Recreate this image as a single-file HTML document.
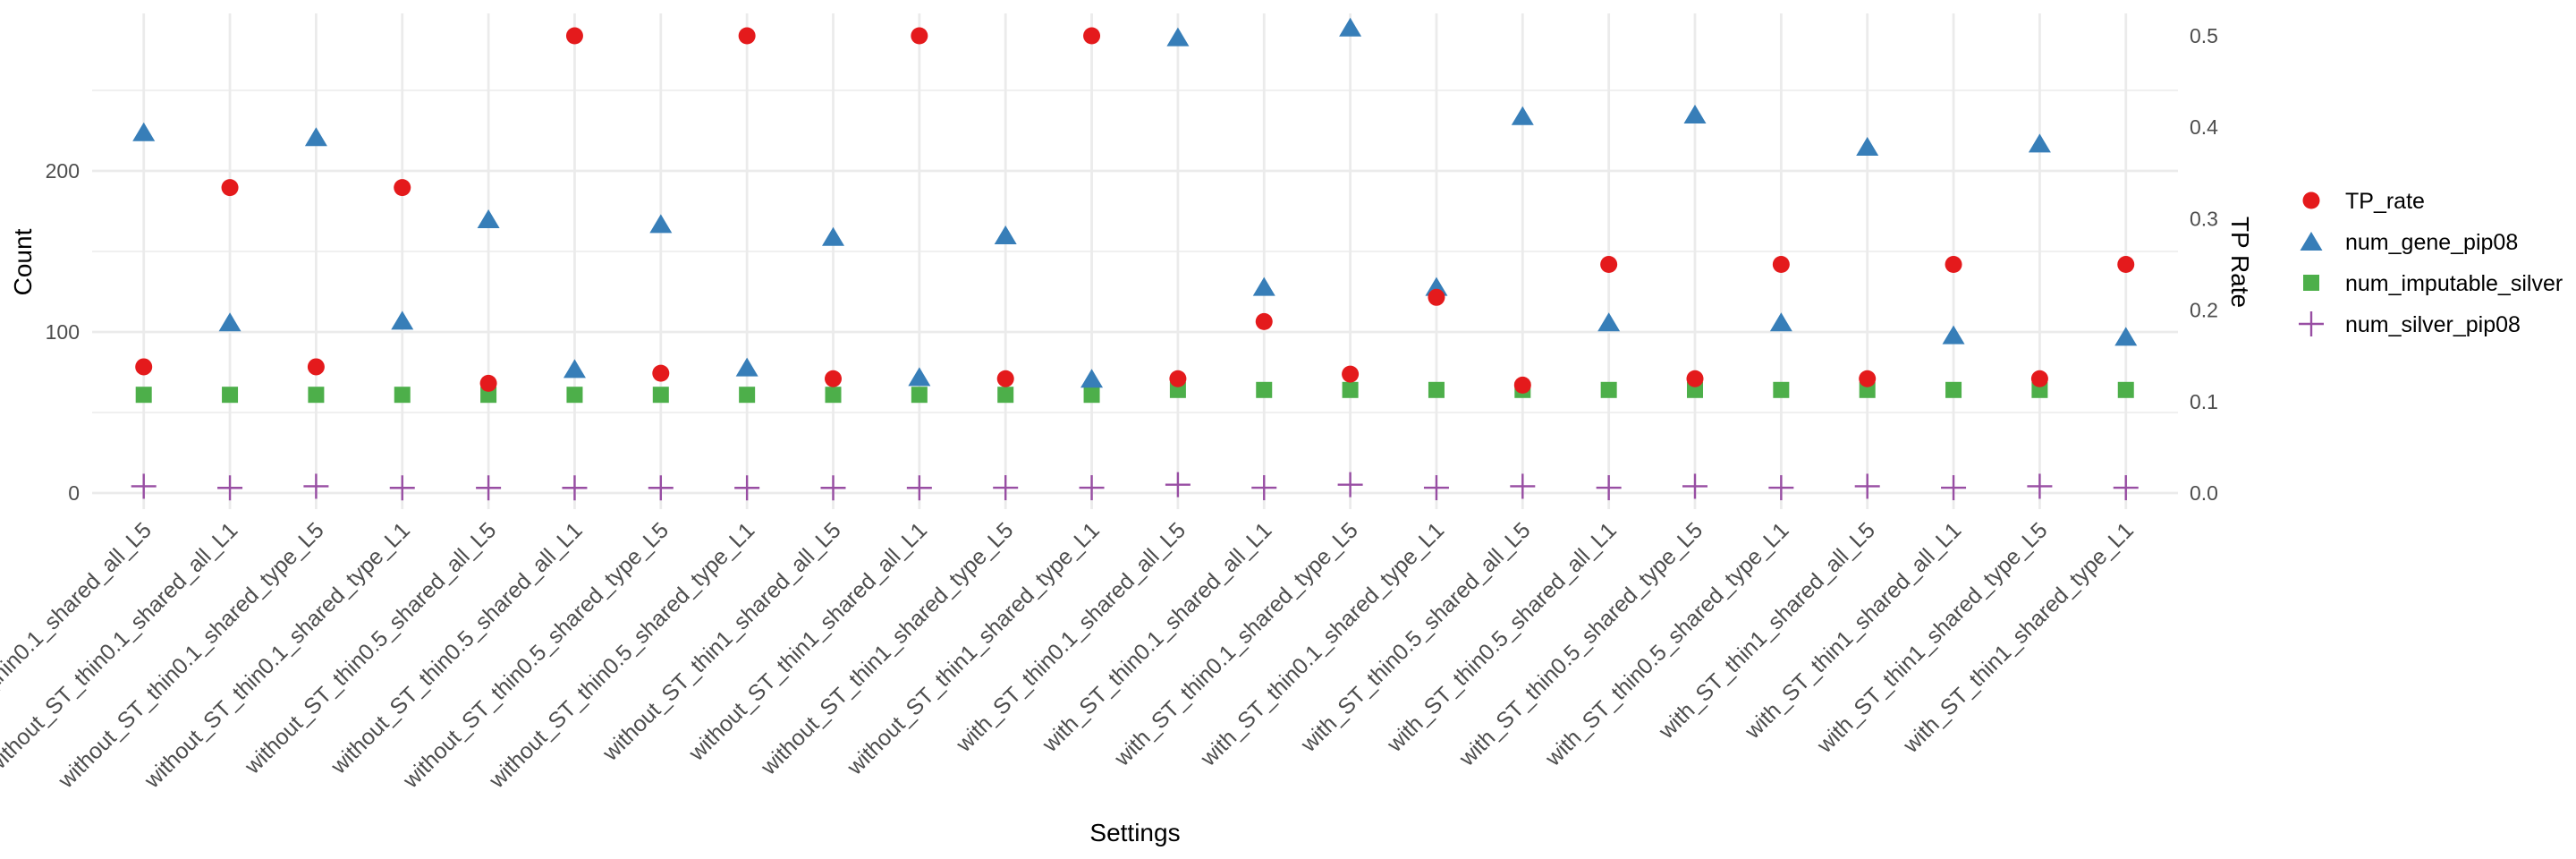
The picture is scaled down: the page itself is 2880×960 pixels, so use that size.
<!DOCTYPE html>
<html><head><meta charset="utf-8"><style>
html,body{margin:0;padding:0;background:#fff;}
svg{display:block;font-family:"Liberation Sans",sans-serif;}
</style></head><body>
<svg id="chart" width="2880" height="960" viewBox="0 0 2880 960" xmlns="http://www.w3.org/2000/svg"></svg>
<script>
const categories=["without_ST_thin0.1_shared_all_L5","without_ST_thin0.1_shared_all_L1","without_ST_thin0.1_shared_type_L5","without_ST_thin0.1_shared_type_L1","without_ST_thin0.5_shared_all_L5","without_ST_thin0.5_shared_all_L1","without_ST_thin0.5_shared_type_L5","without_ST_thin0.5_shared_type_L1","without_ST_thin1_shared_all_L5","without_ST_thin1_shared_all_L1","without_ST_thin1_shared_type_L5","without_ST_thin1_shared_type_L1","with_ST_thin0.1_shared_all_L5","with_ST_thin0.1_shared_all_L1","with_ST_thin0.1_shared_type_L5","with_ST_thin0.1_shared_type_L1","with_ST_thin0.5_shared_all_L5","with_ST_thin0.5_shared_all_L1","with_ST_thin0.5_shared_type_L5","with_ST_thin0.5_shared_type_L1","with_ST_thin1_shared_all_L5","with_ST_thin1_shared_all_L1","with_ST_thin1_shared_type_L5","with_ST_thin1_shared_type_L1"];
const tpRate=[0.138,0.334,0.138,0.334,0.12,0.5,0.131,0.5,0.125,0.5,0.125,0.5,0.125,0.1875,0.13,0.214,0.118,0.25,0.125,0.25,0.125,0.25,0.125,0.25];
const numGenePip08=[224,106,221,107,170,77,167,78,159,72,160,71,283,128,289,128,234,106,235,106,215,98,217,97];
const numImputableSilver=[61,61,61,61,61,61,61,61,61,61,61,61,64,64,64,64,64,64,64,64,64,64,64,64];
const numSilverPip08=[4.2,3.2,4.2,3.2,3.2,3.2,3.2,3.2,3.2,3.2,3.3,3.3,5.2,3.3,5.2,3.3,4.2,3.3,4.2,3.3,4.2,3.3,4.2,3.3];
const leftTicks=[0,100,200];
const leftMinor=[50,150,250];
const rightTicks=[0,0.1,0.2,0.3,0.4,0.5];
const rightLabels=["0.0","0.1","0.2","0.3","0.4","0.5"];
const legendLabels=["TP_rate","num_gene_pip08","num_imputable_silver","num_silver_pip08"];

const svg=document.getElementById('chart');
const NS='http://www.w3.org/2000/svg';
const PL=103,PR=2435,PT=12,PB=565;
const x0=160.7,step=96.35;
function xPos(i){return x0+i*step;}
function yCount(v){return 551-v*1.8;}
function yRate(v){return 551-v*1022;}
function mk(tag,attrs,parent){const e=document.createElementNS(NS,tag);for(const k in attrs)e.setAttribute(k,attrs[k]);(parent||svg).appendChild(e);return e;}
const RED='#E41A1C',BLUE='#377EB8',GREEN='#4DAF4A',PURPLE='#984EA3';

const grid=mk('g',{});


leftMinor.forEach(v=>{const l=mk('line',{x1:PL,x2:PR,y1:yCount(v),y2:yCount(v),stroke:'#EBEBEB','stroke-width':1.4},grid);

});
leftTicks.forEach(v=>{const l=mk('line',{x1:PL,x2:PR,y1:yCount(v),y2:yCount(v),stroke:'#EBEBEB','stroke-width':2.8},grid);

});
categories.forEach((c,i)=>{const l=mk('line',{x1:xPos(i),x2:xPos(i),y1:PT+3,y2:PB+4,stroke:'#EBEBEB','stroke-width':2.8},grid);

});

leftTicks.forEach(v=>{const t=mk('text',{x:89,y:yCount(v)+8,'text-anchor':'end','font-size':23,fill:'#4D4D4D'});t.textContent=String(v);

});
rightTicks.forEach((v,i)=>{const t=mk('text',{x:2448,y:yRate(v)+8,'text-anchor':'start','font-size':23,fill:'#4D4D4D'});t.textContent=rightLabels[i];

});
categories.forEach((c,i)=>{const px=xPos(i)+10,py=594;const t=mk('text',{x:px,y:py,'text-anchor':'end','font-size':25,fill:'#4D4D4D',transform:`rotate(-45 ${px} ${py})`});t.textContent=c;

});

let t=mk('text',{x:0,y:0,'text-anchor':'middle','font-size':28,fill:'#000',transform:'translate(35 293) rotate(-90)'});t.textContent='Count';


t=mk('text',{x:0,y:0,'text-anchor':'middle','font-size':28,fill:'#000',transform:'translate(2495 293) rotate(90)'});t.textContent='TP Rate';


t=mk('text',{x:1269,y:940,'text-anchor':'middle','font-size':28,fill:'#000'});t.textContent='Settings';



function circle(x,y,g){return mk('circle',{cx:x,cy:y,r:9.5,fill:RED},g);}
function tri(x,y,g){return mk('polygon',{points:`${x-12.5},${y+10} ${x+12.5},${y+10} ${x},${y-11}`,fill:BLUE},g);}
function sq(x,y,g){return mk('rect',{x:x-9,y:y-9,width:18,height:18,fill:GREEN},g);}
function cross(x,y,g){const gg=mk('g',{stroke:PURPLE,'stroke-width':2.4},g);mk('line',{x1:x-14,x2:x+14,y1:y,y2:y},gg);mk('line',{x1:x,x2:x,y1:y-14,y2:y+14},gg);return gg;}

const gR=mk('g',{});
const gB=mk('g',{});
const gG=mk('g',{});
const gP=mk('g',{});
categories.forEach((c,i)=>{
  const x=xPos(i);
  let e=cross(x,yCount(numSilverPip08[i]),gP);
  
  
  e=sq(x,yCount(numImputableSilver[i]),gG);
  
  
  e=tri(x,yCount(numGenePip08[i]),gB);
  
  
  e=circle(x,yRate(tpRate[i]),gR);
  
  
});
svg.appendChild(gB);svg.appendChild(gR);

const lg=mk('g',{});
const ly=[224,270,316,362];
const fns=[circle,tri,sq,cross];
legendLabels.forEach((l,i)=>{
  const eg=mk('g',{},lg);
  
  
  fns[i](2584,ly[i],eg);
  const tx=mk('text',{x:2622,y:ly[i]+9,'font-size':25,fill:'#000'},eg);tx.textContent=l;
});
</script>
</body></html>
